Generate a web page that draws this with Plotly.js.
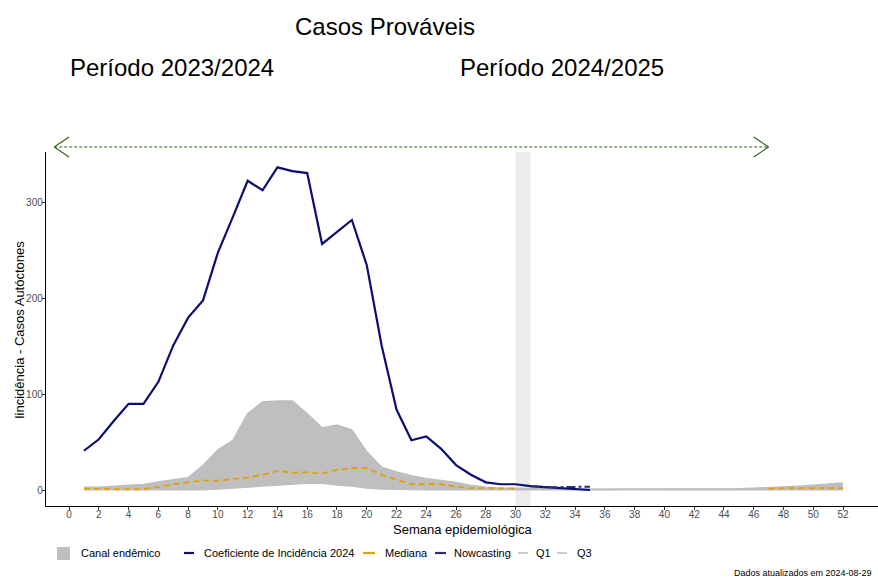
<!DOCTYPE html>
<html><head><meta charset="utf-8">
<script src="https://cdn.plot.ly/plotly-3.0.1.min.js"></script>
<style>html,body{margin:0;padding:0;background:#fff;}#chart{width:878px;height:581px;}</style>
</head><body><div id="chart"></div>
<script>
const weeks = Array.from({length:52},(_,i)=>i+1);
const incidencia = [41,53,72,90,90,113,151,180,198,248,285,323,313,337,333,331,257,270,282,235,151,84,52,56,43,26,16,8,6,6,4,3,2,1,0];
const incWeeks = weeks.slice(0,35);
const nowcastWeeks = [31,32,33,34,35];
const nowcasting = [4,3,3,3.5,3.5];
const q3 = [3,3,4,5,6,8.5,10.5,13,26,42,52,80,92,93,93,80,65,68,63,40,24,19,15,12,10,8,5,3,2,2,1.5,1.5,1,1,1,1,1,1,1,1,1,1,1,1,1.5,2,2.5,3,4,5,6,7.5];
const q1 = [0,0,0,0,0,0,0,0,0,1,2,3.5,4,5,6,7,7,5,4,2,1,0.5,0,0,0,0,0,0,0,0,0,0,0,0,0,0,0,0,0,0,0,0,0,0,0,0,0,0,0,0,0,0];
const mediana = [1.4,1,1,1,1,3,6,8,10,9.7,11.5,13,16,20,18,18.5,17,21,23,23,16,11,6,6,6,3.5,2,2,1.5,1.5,null,null,null,null,null,null,null,null,null,null,null,null,null,null,null,null,1.5,2,2,2,2,2];
const xTicks = Array.from({length:27},(_,i)=>i*2);
const yTicks = [0,100,200,300];
const legendLabels = ['Canal endêmico','Coeficiente de Incidência 2024','Mediana','Nowcasting','Q1','Q3'];

const navy = '#0d0d73';
const grey = '#bdbdbd';
const orange = '#E69F00';
const nowColor = '#2b2b7a';
const traces = [
  {x:weeks, y:q1, type:'scatter', mode:'lines', line:{color:'rgba(0,0,0,0)',width:0}, hoverinfo:'skip'},
  {x:weeks, y:q3, type:'scatter', mode:'lines', fill:'tonexty', fillcolor:'#bfbfbf', line:{color:'rgba(0,0,0,0)',width:0}, name:legendLabels[0]},
  {x:weeks, y:q1, type:'scatter', mode:'lines', line:{color:grey,width:1.2}, name:legendLabels[4]},
  {x:weeks, y:q3, type:'scatter', mode:'lines', line:{color:grey,width:1.2}, name:legendLabels[5]},
  {x:weeks, y:mediana, type:'scatter', mode:'lines', line:{color:orange,width:1.8,dash:'6px,4px'}, name:legendLabels[2]},
  {x:incWeeks, y:incidencia, type:'scatter', mode:'lines', line:{color:navy,width:2.2}, name:legendLabels[1]},
  {x:nowcastWeeks, y:nowcasting, type:'scatter', mode:'lines', line:{color:nowColor,width:2,dash:'dashdot'}, name:legendLabels[3]}
];

// pixel helpers for decorations (plot area: x 46..878, y 152..506)
const px = v => (v-46)/832;
const py = v => (506-v)/354;

const green = '#2f5e1a';
const shapes = [
  {type:'rect', xref:'x', yref:'paper', x0:30, x1:31, y0:0, y1:1, fillcolor:'#ececec', line:{width:0}, layer:'below'},
  {type:'line', xref:'x', yref:'paper', x0:-1.0, x1:47.0, y0:py(147), y1:py(147), line:{color:green,width:1.2,dash:'3px,2px'}},
  {type:'line', xref:'x', yref:'paper', x0:-1.0, x1:0.0, y0:py(147), y1:py(137), line:{color:green,width:1.1}},
  {type:'line', xref:'x', yref:'paper', x0:-1.0, x1:0.0, y0:py(147), y1:py(157), line:{color:green,width:1.1}},
  {type:'line', xref:'x', yref:'paper', x0:47.0, x1:46.0, y0:py(147), y1:py(137), line:{color:green,width:1.1}},
  {type:'line', xref:'x', yref:'paper', x0:47.0, x1:46.0, y0:py(147), y1:py(157), line:{color:green,width:1.1}},
  // manual legend keys
  {type:'rect', xref:'paper', yref:'paper', x0:px(57), x1:px(70), y0:py(547), y1:py(560), fillcolor:'#bfbfbf', line:{width:0}},
  {type:'line', xref:'paper', yref:'paper', x0:px(184), x1:px(194), y0:py(553), y1:py(553), line:{color:navy,width:2.2}},
  {type:'line', xref:'paper', yref:'paper', x0:px(363), x1:px(375), y0:py(553), y1:py(553), line:{color:orange,width:2.2}},
  {type:'line', xref:'paper', yref:'paper', x0:px(435), x1:px(446), y0:py(553), y1:py(553), line:{color:nowColor,width:2.2}},
  {type:'line', xref:'paper', yref:'paper', x0:px(518), x1:px(528), y0:py(553), y1:py(553), line:{color:'#cccccc',width:2}},
  {type:'line', xref:'paper', yref:'paper', x0:px(557), x1:px(567), y0:py(553), y1:py(553), line:{color:'#cccccc',width:2}}
];
const legX = [79,202,383,452,534,575];
const annotations = [
  {text:'Casos Prováveis', xref:'paper', yref:'paper', x:px(385), y:py(27), xanchor:'center', yanchor:'middle', showarrow:false, font:{size:24,color:'#000'}},
  {text:'Período 2023/2024', xref:'paper', yref:'paper', x:px(68), y:py(68), xanchor:'left', yanchor:'middle', showarrow:false, font:{size:24,color:'#000'}},
  {text:'Período 2024/2025', xref:'paper', yref:'paper', x:px(458), y:py(68), xanchor:'left', yanchor:'middle', showarrow:false, font:{size:24,color:'#000'}},
  {text:'Semana epidemiológica', xref:'paper', yref:'paper', x:px(463), y:py(529), xanchor:'center', yanchor:'middle', showarrow:false, font:{size:13,color:'#000'}},
  {text:'Iincidência - Casos Autóctones', xref:'paper', yref:'paper', x:px(19), y:py(330), xanchor:'center', yanchor:'middle', textangle:-90, showarrow:false, font:{size:13,color:'#000'}},
  {text:'Dados atualizados em 2024-08-29', xref:'paper', yref:'paper', x:px(732), y:py(573), xanchor:'left', yanchor:'middle', showarrow:false, font:{size:9,color:'#000'}}
].concat(legendLabels.map((t,i)=>({text:t, xref:'paper', yref:'paper', x:px(legX[i]), y:py(553), xanchor:'left', yanchor:'middle', showarrow:false, font:{size:11,color:'#000'}})));

const layout = {
  width:878, height:581,
  margin:{l:46, r:0, t:152, b:75},
  paper_bgcolor:'#fff', plot_bgcolor:'#fff',
  font:{family:'Liberation Sans, Arial, sans-serif', color:'#000'},
  showlegend:false,
  xaxis:{range:[-1.55,54.35], tickvals:xTicks, ticktext:xTicks.map(String), showgrid:false, zeroline:false,
         showline:true, linecolor:'#000', linewidth:1.2, ticks:'outside', ticklen:3, tickcolor:'#333',
         ticklabelstandoff:-4, tickfont:{size:10,color:'#4d4d4d'}},
  yaxis:{range:[-16.7,353], tickvals:yTicks, showgrid:false, zeroline:false,
         showline:true, linecolor:'#000', linewidth:1.2, ticks:'outside', ticklen:3, tickcolor:'#333',
         ticklabelstandoff:-3, tickfont:{size:10,color:'#4d4d4d'}},
  shapes:shapes,
  annotations:annotations
};
Plotly.newPlot('chart', traces, layout, {displayModeBar:false, staticPlot:true});
</script>
</body></html>
